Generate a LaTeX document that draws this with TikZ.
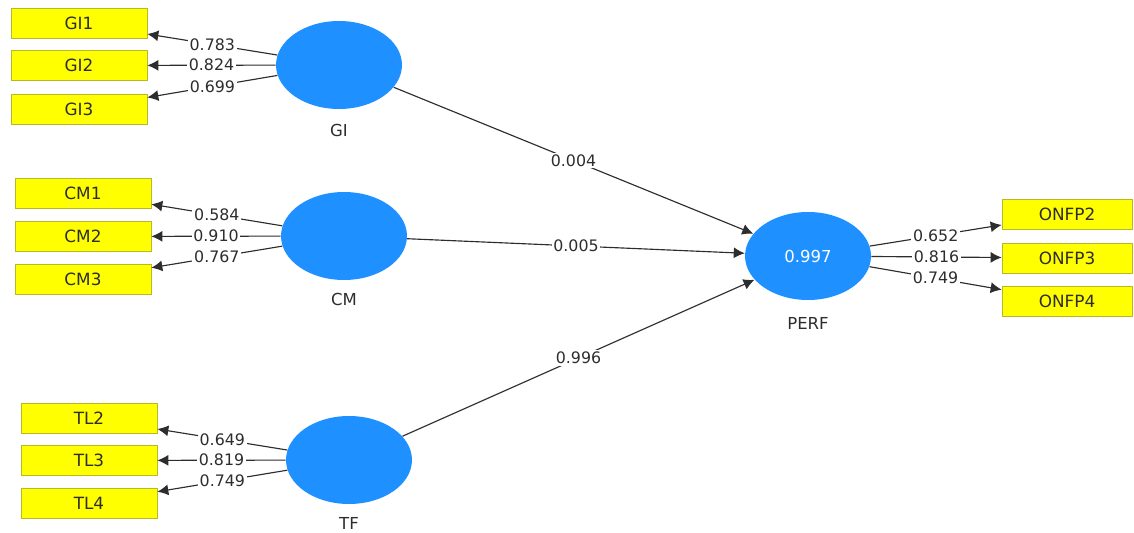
\documentclass[tikz,border=0pt]{standalone}
\usepackage{fontspec}
\setmainfont{DejaVu Sans}
\usetikzlibrary{arrows.meta, shapes.geometric}
\definecolor{lvblue}{RGB}{30,144,255}
\definecolor{mvyellow}{RGB}{255,255,0}
\definecolor{mvborder}{RGB}{185,185,40}
\definecolor{ink}{RGB}{45,45,45}
\tikzset{
  mv/.style={draw=mvborder, fill=mvyellow, minimum width=2.72cm, minimum height=0.6cm, inner sep=0pt, text=ink, font=\fontsize{9.6}{10}\selectfont},
  lv/.style={ellipse, fill=lvblue, minimum width=2.52cm, minimum height=1.76cm, inner sep=0pt},
  lvname/.style={text=ink, font=\fontsize{9.4}{10}\selectfont},
  link/.style={draw=ink, line width=0.65pt, -{Latex[length=0.22cm, width=0.22cm]}},
  coef/.style={fill=white, inner sep=1pt, text=ink, font=\fontsize{9}{10}\selectfont}
}
\begin{document}
\begin{tikzpicture}[x=0.02cm, y=-0.02cm]
\useasboundingbox (0,0) rectangle (1134,533);
\node[lv] (gi) at (339,65) {};
\node[lv] (cm) at (344,236) {};
\node[lv] (tf) at (349,460) {};
\node[lv, text=white, font=\fontsize{9.4}{10}\selectfont] (perf) at (808,256) {0.997};
\node[lvname] (gilabel) at (339,130) {GI};
\node[lvname] (cmlabel) at (344,299) {CM};
\node[lvname] (tflabel) at (349,523) {TF};
\node[lvname] (perflabel) at (808,323) {PERF};
\foreach \n/\t/\y/\v in {gia/GI1/23/0.783, gib/GI2/65.5/0.824, gic/GI3/109/0.699} {
  \node[mv] (\n) at (79,\y) {\t};
  \draw[link] (gi) -- (\n) node[coef, midway] {\v};
}
\foreach \n/\t/\y/\v in {cma/CM1/193/0.584, cmb/CM2/236.5/0.910, cmc/CM3/279/0.767} {
  \node[mv] (\n) at (83,\y) {\t};
  \draw[link] (cm) -- (\n) node[coef, midway] {\v};
}
\foreach \n/\t/\y/\v in {tfa/TL2/418/0.649, tfb/TL3/460.5/0.819, tfc/TL4/503/0.749} {
  \node[mv] (\n) at (89,\y) {\t};
  \draw[link] (tf) -- (\n) node[coef, midway] {\v};
}
\foreach \n/\t/\y/\v in {pea/ONFP2/214.5/0.652, peb/ONFP3/258/0.816, pec/ONFP4/301/0.749} {
  \node[mv, minimum width=2.6cm] (\n) at (1067,\y) {\t};
  \draw[link] (perf) -- (\n) node[coef, midway] {\v};
}
\draw[link] (gi) -- (perf) node[coef, midway] {0.004};
\draw[link] (cm) -- (perf) node[coef, midway] {0.005};
\draw[link] (tf) -- (perf) node[coef, midway] {0.996};
\end{tikzpicture}
\end{document}
